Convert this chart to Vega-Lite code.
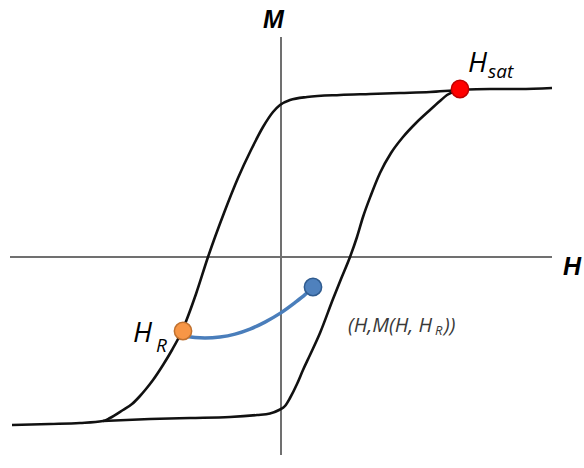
{
  "$schema": "https://vega.github.io/schema/vega-lite/v6.json",
  "width": 584,
  "height": 468,
  "autosize": {"type": "fit", "contains": "padding"},
  "padding": 0,
  "background": "white",
  "config": {"view": {"stroke": null}},
  "datasets": {
    "axes": [
      {"H": -271, "M": 0, "H2": 271, "M2": 0},
      {"H": 0, "M": 220, "H2": 0, "M2": -198}
    ],
    "loop": [
      {"branch": "down", "H": 271, "M": 169},
      {"branch": "down", "H": 239, "M": 168},
      {"branch": "down", "H": 209, "M": 168},
      {"branch": "down", "H": 178, "M": 167},
      {"branch": "down", "H": 149, "M": 165},
      {"branch": "down", "H": 119, "M": 164},
      {"branch": "down", "H": 89, "M": 163},
      {"branch": "down", "H": 59, "M": 162},
      {"branch": "down", "H": 26, "M": 160},
      {"branch": "down", "H": 9, "M": 157},
      {"branch": "down", "H": -1, "M": 152},
      {"branch": "down", "H": -8, "M": 145},
      {"branch": "down", "H": -18, "M": 130},
      {"branch": "down", "H": -30, "M": 107},
      {"branch": "down", "H": -43, "M": 79},
      {"branch": "down", "H": -57, "M": 44},
      {"branch": "down", "H": -73, "M": 0},
      {"branch": "down", "H": -85, "M": -37},
      {"branch": "down", "H": -99, "M": -74},
      {"branch": "down", "H": -109, "M": -93},
      {"branch": "down", "H": -118, "M": -108},
      {"branch": "down", "H": -128, "M": -123},
      {"branch": "down", "H": -135, "M": -132},
      {"branch": "down", "H": -141, "M": -139},
      {"branch": "down", "H": -149, "M": -147},
      {"branch": "down", "H": -158, "M": -153},
      {"branch": "down", "H": -171, "M": -161},
      {"branch": "down", "H": -178, "M": -164},
      {"branch": "down", "H": -201, "M": -166},
      {"branch": "down", "H": -231, "M": -167},
      {"branch": "down", "H": -269, "M": -168},
      {"branch": "up", "H": -178, "M": -164},
      {"branch": "up", "H": -131, "M": -162},
      {"branch": "up", "H": -91, "M": -161},
      {"branch": "up", "H": -51, "M": -160},
      {"branch": "up", "H": -24, "M": -158},
      {"branch": "up", "H": -11, "M": -156.5},
      {"branch": "up", "H": -2, "M": -153},
      {"branch": "up", "H": 4, "M": -149},
      {"branch": "up", "H": 9, "M": -141},
      {"branch": "up", "H": 16, "M": -127},
      {"branch": "up", "H": 22, "M": -113},
      {"branch": "up", "H": 29, "M": -98},
      {"branch": "up", "H": 39, "M": -76},
      {"branch": "up", "H": 52, "M": -42},
      {"branch": "up", "H": 60, "M": -22},
      {"branch": "up", "H": 69, "M": 0},
      {"branch": "up", "H": 76, "M": 20},
      {"branch": "up", "H": 82, "M": 40},
      {"branch": "up", "H": 90, "M": 62},
      {"branch": "up", "H": 99, "M": 84},
      {"branch": "up", "H": 110, "M": 104},
      {"branch": "up", "H": 122, "M": 120},
      {"branch": "up", "H": 135, "M": 134},
      {"branch": "up", "H": 149, "M": 147},
      {"branch": "up", "H": 159, "M": 156},
      {"branch": "up", "H": 166, "M": 162},
      {"branch": "up", "H": 172, "M": 165},
      {"branch": "up", "H": 178, "M": 167}
    ],
    "minor": [
      {"H": -96, "M": -79.3},
      {"H": -86, "M": -80.6},
      {"H": -76, "M": -81},
      {"H": -61, "M": -80},
      {"H": -46, "M": -77.1},
      {"H": -31, "M": -72.1},
      {"H": -16, "M": -65.1},
      {"H": -1, "M": -56.4},
      {"H": 14, "M": -45.6},
      {"H": 24, "M": -37.6},
      {"H": 32, "M": -30}
    ],
    "dots": [
      {"name": "Hsat", "H": 179, "M": 168},
      {"name": "HR", "H": -98, "M": -74},
      {"name": "point", "H": 32, "M": -30}
    ]
  },
  "layer": [
    {
      "data": {"name": "axes"},
      "mark": {"type": "rule", "color": "#707070", "strokeWidth": 2},
      "encoding": {
        "x": {"field": "H", "type": "quantitative", "scale": {"domain": [-281, 303], "nice": false, "zero": false}, "axis": null},
        "y": {"field": "M", "type": "quantitative", "scale": {"domain": [-211, 257], "nice": false, "zero": false}, "axis": null},
        "x2": {"field": "H2"},
        "y2": {"field": "M2"}
      }
    },
    {
      "data": {"name": "loop"},
      "mark": {"type": "line", "color": "#111111", "strokeWidth": 2.6, "interpolate": "monotone"},
      "encoding": {
        "x": {"field": "H", "type": "quantitative"},
        "y": {"field": "M", "type": "quantitative"},
        "detail": {"field": "branch"}
      }
    },
    {
      "data": {"name": "minor"},
      "mark": {"type": "line", "color": "#4a7ebb", "strokeWidth": 3.5, "interpolate": "monotone"},
      "encoding": {
        "x": {"field": "H", "type": "quantitative"},
        "y": {"field": "M", "type": "quantitative"}
      }
    },
    {
      "data": {"name": "dots"},
      "mark": {"type": "point", "shape": "circle", "filled": true, "size": 300, "opacity": 1, "strokeWidth": 1.5},
      "encoding": {
        "x": {"field": "H", "type": "quantitative"},
        "y": {"field": "M", "type": "quantitative"},
        "fill": {"field": "name", "type": "nominal", "scale": {"domain": ["Hsat", "HR", "point"], "range": ["#ff0000", "#f79646", "#4f81bd"]}, "legend": null},
        "stroke": {"field": "name", "type": "nominal", "scale": {"domain": ["Hsat", "HR", "point"], "range": ["#c00000", "#c0712f", "#2f5b8f"]}, "legend": null}
      }
    },
    {
      "data": {"values": [
        {"label": "M", "H": -18, "M": 229},
        {"label": "H", "H": 282, "M": -18}
      ]},
      "mark": {"type": "text", "font": "Liberation Sans", "fontStyle": "italic", "fontWeight": "bold", "fontSize": 25, "align": "left", "baseline": "alphabetic", "color": "#000000"},
      "encoding": {
        "x": {"field": "H", "type": "quantitative"},
        "y": {"field": "M", "type": "quantitative"},
        "text": {"field": "label"}
      }
    },
    {
      "data": {"values": [
        {"label": "H", "H": 187, "M": 185},
        {"label": "H", "H": -148, "M": -85}
      ]},
      "mark": {"type": "text", "font": "Open Sans", "fontStyle": "italic", "fontSize": 28, "align": "left", "baseline": "alphabetic", "color": "#000000"},
      "encoding": {
        "x": {"field": "H", "type": "quantitative"},
        "y": {"field": "M", "type": "quantitative"},
        "text": {"field": "label"}
      }
    },
    {
      "data": {"values": [
        {"label": "sat", "H": 207, "M": 179},
        {"label": "R", "H": -125, "M": -95}
      ]},
      "mark": {"type": "text", "font": "Open Sans", "fontStyle": "italic", "fontSize": 19, "align": "left", "baseline": "alphabetic", "color": "#000000"},
      "encoding": {
        "x": {"field": "H", "type": "quantitative"},
        "y": {"field": "M", "type": "quantitative"},
        "text": {"field": "label"}
      }
    },
    {
      "data": {"values": [
        {"label": "(H,M(H, H", "H": 67, "M": -75},
        {"label": "))", "H": 163, "M": -75}
      ]},
      "mark": {"type": "text", "font": "Open Sans", "fontStyle": "italic", "fontSize": 20, "align": "left", "baseline": "alphabetic", "color": "#3a3a3a"},
      "encoding": {
        "x": {"field": "H", "type": "quantitative"},
        "y": {"field": "M", "type": "quantitative"},
        "text": {"field": "label"}
      }
    },
    {
      "data": {"values": [
        {"label": "R", "H": 154, "M": -78}
      ]},
      "mark": {"type": "text", "font": "Open Sans", "fontStyle": "italic", "fontSize": 13, "align": "left", "baseline": "alphabetic", "color": "#3a3a3a"},
      "encoding": {
        "x": {"field": "H", "type": "quantitative"},
        "y": {"field": "M", "type": "quantitative"},
        "text": {"field": "label"}
      }
    }
  ]
}
